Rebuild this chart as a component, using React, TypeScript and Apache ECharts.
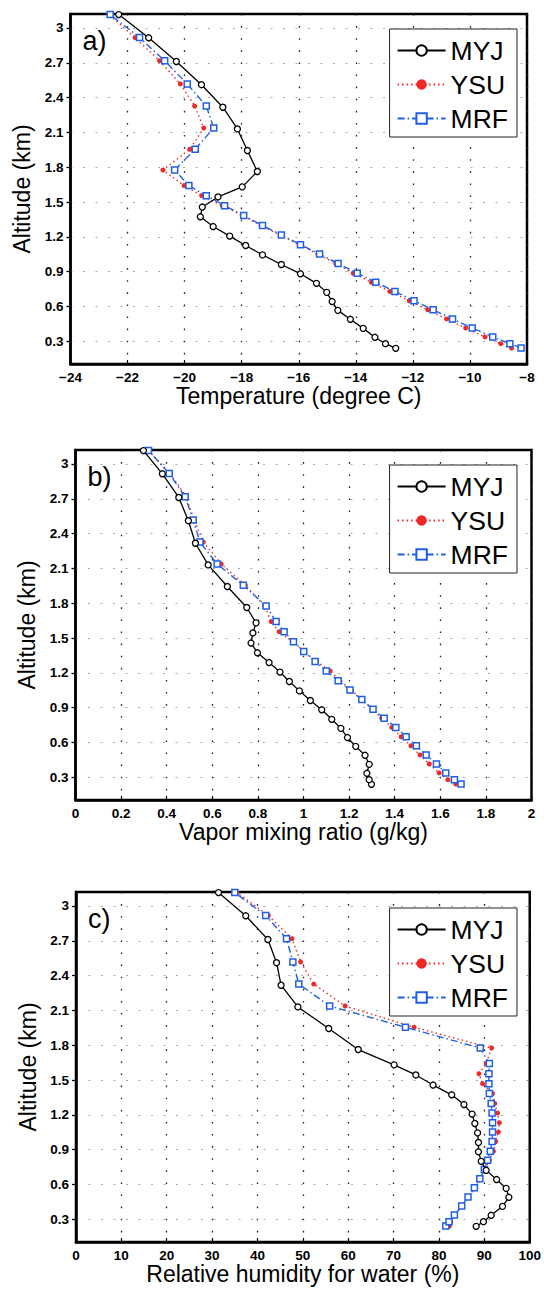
import React, { useEffect, useRef } from "react";
import * as echarts from "echarts";

// Model level altitudes (km)
const ALT_MYJ = [0.24, 0.28, 0.335, 0.412, 0.49, 0.567, 0.643, 0.722, 0.8, 0.882, 0.962, 1.045, 1.126, 1.207, 1.289, 1.373, 1.457, 1.544, 1.631, 1.763, 1.944, 2.13, 2.317, 2.511, 2.711, 2.915, 3.115];
const ALT_YSU_MRF = [0.243, 0.28, 0.338, 0.415, 0.493, 0.572, 0.65, 0.73, 0.809, 0.887, 0.97, 1.052, 1.133, 1.216, 1.298, 1.384, 1.469, 1.555, 1.642, 1.776, 1.955, 2.138, 2.327, 2.518, 2.718, 2.917, 3.115];

// a) Temperature (degree C)
const TEMP_MYJ = [-12.6, -12.96, -13.33, -13.74, -14.19, -14.63, -14.83, -15.02, -15.38, -15.94, -16.61, -17.27, -17.86, -18.42, -19.0, -19.45, -19.38, -18.83, -17.98, -17.45, -17.8, -18.15, -18.66, -19.41, -20.29, -21.26, -22.31];
const TEMP_YSU = [-8.54, -8.92, -9.47, -10.15, -10.82, -11.48, -12.13, -12.81, -13.45, -14.09, -14.7, -15.33, -15.98, -16.65, -17.32, -17.98, -18.68, -19.4, -20.02, -20.76, -19.82, -19.33, -19.65, -20.15, -20.88, -21.74, -22.65];
const TEMP_MRF = [-8.21, -8.6, -9.2, -9.92, -10.61, -11.29, -11.96, -12.63, -13.3, -13.95, -14.62, -15.27, -15.94, -16.61, -17.27, -17.93, -18.6, -19.24, -19.85, -20.35, -19.63, -18.98, -19.24, -19.91, -20.7, -21.58, -22.61];

// b) Vapor mixing ratio (g/kg)
const QV_MYJ = [1.298, 1.288, 1.278, 1.288, 1.27, 1.229, 1.193, 1.164, 1.124, 1.08, 1.03, 0.982, 0.938, 0.897, 0.849, 0.798, 0.77, 0.778, 0.792, 0.751, 0.666, 0.582, 0.526, 0.495, 0.453, 0.381, 0.298];
const QV_YSU = [1.668, 1.633, 1.595, 1.552, 1.511, 1.471, 1.428, 1.387, 1.343, 1.3, 1.256, 1.21, 1.16, 1.117, 1.058, 1.003, 0.952, 0.893, 0.858, 0.83, 0.745, 0.639, 0.561, 0.52, 0.485, 0.415, 0.32];
const QV_MRF = [1.691, 1.662, 1.624, 1.583, 1.538, 1.495, 1.45, 1.405, 1.354, 1.305, 1.256, 1.204, 1.152, 1.1, 1.051, 1.001, 0.956, 0.915, 0.88, 0.836, 0.736, 0.621, 0.546, 0.516, 0.481, 0.411, 0.32];

// c) Relative humidity for water (%)
const RH_MYJ = [88.2, 89.8, 91.5, 94.0, 95.4, 94.8, 92.7, 90.4, 89.3, 88.7, 88.7, 88.5, 87.9, 87.3, 85.5, 82.8, 78.7, 74.9, 70.1, 62.2, 55.7, 48.9, 45.2, 44.2, 42.3, 37.4, 31.4];
const RH_YSU = [82.3, 82.6, 83.6, 85.0, 86.5, 87.9, 89.1, 90.2, 91.1, 92.0, 92.5, 93.1, 93.3, 92.9, 92.3, 91.8, 89.6, 88.8, 90.4, 91.6, 74.5, 59.3, 52.4, 49.5, 47.6, 42.4, 35.5];
const RH_MRF = [81.5, 82.2, 83.4, 85.0, 86.4, 87.8, 89.0, 90.0, 90.7, 91.3, 91.7, 91.8, 91.8, 91.7, 91.5, 91.1, 91.0, 91.0, 91.1, 89.1, 72.6, 55.9, 49.1, 47.8, 46.4, 41.8, 35.0];

const SCHEMES = ["MYJ", "YSU", "MRF"];
const PANEL_LABELS = ["a)", "b)", "c)"];
const X_NAMES = ["Temperature (degree C)", "Vapor mixing ratio (g/kg)", "Relative humidity for water (%)"];
const Y_NAME = "Altitude (km)";
const Y_TICKS = [0.3, 0.6, 0.9, 1.2, 1.5, 1.8, 2.1, 2.4, 2.7, 3.0];
const X_RANGES = [
  { min: -24, max: -8, interval: 2 },
  { min: 0, max: 2, interval: 0.2 },
  { min: 0, max: 100, interval: 10 },
];
const Y_MIN = 0.105;
const Y_MAX = 3.12;

const PANEL_DATA = [
  [TEMP_MYJ, TEMP_YSU, TEMP_MRF],
  [QV_MYJ, QV_YSU, QV_MRF],
  [RH_MYJ, RH_YSU, RH_MRF],
];
const SCHEME_ALTS = [ALT_MYJ, ALT_YSU_MRF, ALT_YSU_MRF];

const GRIDS = [
  { left: 70.5, top: 14, width: 456.5, height: 350 },
  { left: 75.5, top: 450, width: 456, height: 350 },
  { left: 76, top: 892, width: 456, height: 350 },
];
const LEGEND_TOPS = [29, 465, 908];

const FONT = "'Liberation Sans', Arial, Helvetica, sans-serif";
const RED = "#f02828";
const BLUE = "#1f5fe6";

const STYLES = [
  {
    symbol: "circle",
    symbolSize: 6,
    lineStyle: { color: "#000", width: 1.3, type: "solid" },
    itemStyle: { color: "#fff", borderColor: "#000", borderWidth: 1.3 },
  },
  {
    symbol: "circle",
    symbolSize: 5,
    lineStyle: { color: RED, width: 1.4, type: [1.5, 3] },
    itemStyle: { color: RED, borderColor: RED, borderWidth: 0 },
  },
  {
    symbol: "rect",
    symbolSize: 6,
    lineStyle: { color: BLUE, width: 1.4, type: [7, 3, 1.5, 3] },
    itemStyle: { color: "#fff", borderColor: BLUE, borderWidth: 1.5 },
  },
];

function fmtX(v: number) {
  const r = +v.toFixed(1);
  return r < 0 ? "\u2212" + Math.abs(r) : String(r);
}

export default function App() {
  const ref = useRef<HTMLDivElement>(null);

  useEffect(() => {
    document.body.style.margin = "0";
    if (!ref.current) return;
    const chart = echarts.init(ref.current, undefined, { renderer: "svg" });

    const grid = GRIDS.map((g) => ({
      ...g,
      show: true,
      borderColor: "#000",
      borderWidth: 2.5,
      backgroundColor: "#fff",
    }));

    const xAxis = X_RANGES.map((r, i) => ({
      type: "value",
      gridIndex: i,
      min: r.min,
      max: r.max,
      interval: r.interval,
      name: X_NAMES[i],
      nameLocation: "middle",
      nameGap: 20,
      nameTextStyle: { fontSize: 23, color: "#000", fontFamily: FONT },
      axisLine: { show: true, lineStyle: { color: "#000", width: 2.5 } },
      axisTick: { show: true, inside: true, length: 4, lineStyle: { color: "#000", width: 1.2 } },
      axisLabel: {
        color: "#000",
        fontSize: 13.5,
        fontWeight: "bold",
        fontFamily: FONT,
        margin: 6,
        formatter: fmtX,
        showMinLabel: true,
        showMaxLabel: true,
      },
      splitLine: { show: true, lineStyle: { color: "#222", width: 1.3, type: [1.6, 10.5] } },
    }));

    const yAxis = GRIDS.map((_, i) => ({
      type: "value",
      gridIndex: i,
      min: Y_MIN,
      max: Y_MAX,
      name: Y_NAME,
      nameLocation: "middle",
      nameGap: 30,
      nameTextStyle: { fontSize: 23, color: "#000", fontFamily: FONT },
      axisLine: { show: true, lineStyle: { color: "#000", width: 2.5 } },
      axisTick: { show: true, inside: false, length: 4, customValues: Y_TICKS, lineStyle: { color: "#000", width: 1.3 } },
      axisLabel: {
        customValues: Y_TICKS,
        color: "#000",
        fontSize: 13.5,
        fontWeight: "bold",
        fontFamily: FONT,
        margin: 7,
        formatter: (v: number) => String(+(+v).toFixed(1)),
      },
      splitLine: { show: true, lineStyle: { color: "#aaa", width: 1.2, type: [2, 10.5] } },
    }));

    const series: any[] = [];
    PANEL_DATA.forEach((vals, p) => {
      vals.forEach((arr, s) => {
        const st = STYLES[s];
        series.push({
          type: "line",
          name: SCHEMES[s],
          xAxisIndex: p,
          yAxisIndex: p,
          data: arr.map((v, k) => [v, SCHEME_ALTS[s][k]]),
          symbol: st.symbol,
          symbolSize: st.symbolSize,
          showAllSymbol: true,
          lineStyle: st.lineStyle,
          itemStyle: st.itemStyle,
          z: 3 + (s === 0 ? 2 : s === 2 ? 1 : 0),
          clip: false,
          emphasis: { disabled: true },
        });
      });
    });

    const legend = LEGEND_TOPS.map((top) => ({
      data: SCHEMES,
      orient: "vertical",
      right: 27,
      top,
      backgroundColor: "#fff",
      borderColor: "#222",
      borderWidth: 1,
      padding: [8, 9, 5, 7],
      itemWidth: 48,
      itemHeight: 13,
      itemGap: 7,
      selectedMode: false,
      textStyle: { fontSize: 26.5, color: "#000", fontFamily: FONT, lineHeight: 26 },
    }));

    const graphic = PANEL_LABELS.map((t, i) => ({
      type: "text",
      left: GRIDS[i].left + 12,
      top: GRIDS[i].top + 13,
      z: 10,
      style: { text: t, font: `27px ${FONT}`, fill: "#000" },
    }));

    chart.setOption({
      animation: false,
      backgroundColor: "#fff",
      grid,
      xAxis,
      yAxis,
      series,
      legend,
      graphic,
    } as any);

    return () => chart.dispose();
  }, []);

  return <div ref={ref} style={{ width: 544, height: 1292 }} />;
}
